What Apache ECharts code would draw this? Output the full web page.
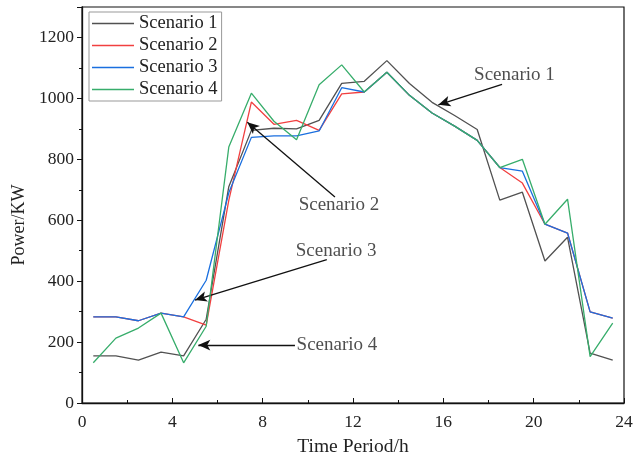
<!DOCTYPE html>
<html>
<head>
<meta charset="utf-8">
<script src="https://cdn.jsdelivr.net/npm/echarts@6/dist/echarts.min.js"></script>
<style>
  html, body { margin: 0; padding: 0; background: #fff; }
  #chart { width: 642px; height: 458px; }
</style>
</head>
<body>
<div id="chart"></div>
<script>
var hours = [0.5, 1.5, 2.5, 3.5, 4.5, 5.5, 6.5, 7.5, 8.5, 9.5, 10.5, 11.5,
    12.5, 13.5, 14.5, 15.5, 16.5, 17.5, 18.5, 19.5, 20.5, 21.5, 22.5, 23.5];

var scenario1 = [155, 155, 141, 167, 155, 275, 710, 895, 902, 900, 928, 1049,
    1056, 1124, 1049, 987, 944, 898, 666, 692, 466, 544, 164, 141];
var scenario2 = [283, 283, 270, 295, 283, 256, 665, 988, 915, 928, 895, 1015,
    1021, 1086, 1010, 952, 909, 862, 773, 722, 587, 558, 299, 279];
var scenario3 = [283, 283, 270, 295, 283, 403, 690, 872, 877, 877, 893, 1035,
    1021, 1086, 1010, 952, 909, 862, 773, 761, 587, 558, 299, 279];
var scenario4 = [132, 213, 246, 295, 132, 252, 840, 1017, 925, 864, 1045, 1110,
    1021, 1086, 1010, 952, 909, 862, 773, 800, 587, 669, 152, 262];

var names = ['Scenario 1', 'Scenario 2', 'Scenario 3', 'Scenario 4'];
var colors = ['#515151', '#F14040', '#1A6FDF', '#37AD6B'];

// annotation text (centre, in data units) and arrows [from, to]
var noteText = [[19.15, 1078], [11.38, 649], [11.25, 500], [11.29, 190]];
var noteArrows = [
    [[18.6, 1046], [15.78, 979]],
    [[11.2, 676], [7.32, 922]],
    [[10.84, 471], [5.0, 338]],
    [[9.43, 190], [5.15, 190]]
];

var font = 'Liberation Serif';

function pairs(ys) {
    return hours.map(function (h, i) { return [h, ys[i]]; });
}

var series = [scenario1, scenario2, scenario3, scenario4].map(function (ys, i) {
    return {
        name: names[i],
        type: 'line',
        data: pairs(ys),
        symbol: 'none',
        lineStyle: {width: 1.3, color: colors[i]},
        itemStyle: {color: colors[i]},
        z: 2 + i
    };
});

series.push({
    name: 'notes',
    type: 'scatter',
    symbolSize: 0,
    silent: true,
    z: 10,
    data: noteText.map(function (p, i) { return {value: p, name: names[i]}; }),
    label: {
        show: true,
        position: 'inside',
        formatter: '{b}',
        fontFamily: font,
        fontSize: 19,
        color: '#222'
    },
    markLine: {
        silent: true,
        symbol: ['none', 'arrow'],
        symbolSize: [8, 12],
        label: {show: false},
        lineStyle: {color: '#111', width: 1.3, type: 'solid'},
        data: noteArrows.map(function (a) {
            return [{coord: a[0]}, {coord: a[1]}];
        })
    }
});

var chart = echarts.init(document.getElementById('chart'));
chart.setOption({
    animation: false,
    color: colors,
    grid: {
        left: 82, right: 18, top: 7, bottom: 55,
        outerBoundsMode: 'none',
        show: true, borderColor: '#111', borderWidth: 1.2,
        backgroundColor: 'transparent'
    },
    legend: {
        data: names,
        orient: 'vertical',
        left: 89, top: 12,
        icon: 'rect',
        itemWidth: 42, itemHeight: 1.5, itemGap: 3,
        padding: [2, 4, 2, 3],
        borderColor: '#999', borderWidth: 1,
        backgroundColor: '#fff',
        textStyle: {fontFamily: font, fontSize: 18.5, color: '#222', lineHeight: 18}
    },
    xAxis: {
        type: 'value',
        min: 0, max: 24, interval: 4,
        name: 'Time Period/h',
        nameLocation: 'middle',
        nameGap: 34,
        nameTextStyle: {fontFamily: font, fontSize: 19.5, color: '#222'},
        axisLine: {lineStyle: {color: '#111', width: 1.3}},
        axisTick: {inside: true, length: 5, lineStyle: {color: '#111'}},
        minorTick: {show: true, splitNumber: 2, length: 3, lineStyle: {color: '#111'}},
        splitLine: {show: false},
        axisLabel: {fontFamily: font, fontSize: 17.5, color: '#222', margin: 10}
    },
    yAxis: {
        type: 'value',
        min: 0, max: 1300, interval: 200,
        name: 'Power/KW',
        nameLocation: 'middle',
        nameGap: 51,
        nameTextStyle: {fontFamily: font, fontSize: 18, color: '#222', padding: [0, 40, 0, 0]},
        axisLine: {show: true, lineStyle: {color: '#111', width: 1.3}},
        axisTick: {show: true, inside: false, length: 5, lineStyle: {color: '#111'}},
        minorTick: {show: true, splitNumber: 2, length: 3, lineStyle: {color: '#111'}},
        splitLine: {show: false},
        axisLabel: {
            fontFamily: font, fontSize: 17.5, color: '#222', margin: 8,
            formatter: function (v) { return v > 1200 ? '' : v; }
        }
    },
    series: series
});
</script>
</body>
</html>
